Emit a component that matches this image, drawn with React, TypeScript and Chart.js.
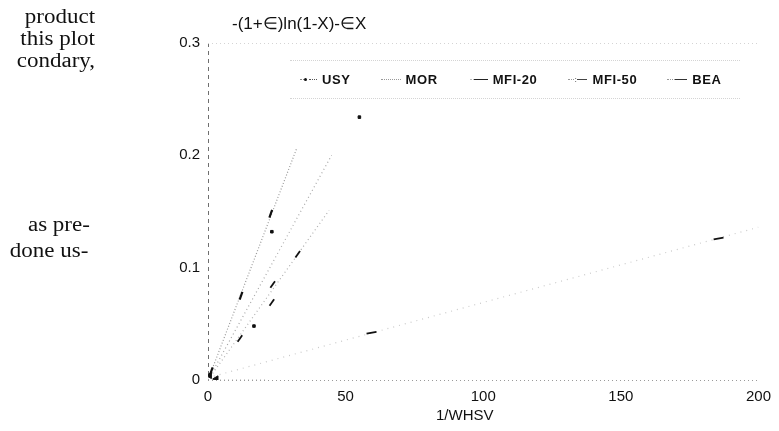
import React, { useEffect, useRef } from "react";
import { Chart, registerables } from "chart.js";

Chart.register(...registerables);

// ---------- data ----------
const xTicks = [0, 50, 100, 150, 200];
const yTicks = [0, 0.1, 0.2, 0.3];
const seriesNames = ["USY", "MOR", "MFI-20", "MFI-50", "BEA"];

// measured points (markers)
const usyX = [1.2, 12, 22.8];
const usyY = [0.008, 0.075, 0.148];
const morX = [16.7, 23.2, 55];
const morY = [0.048, 0.132, 0.234];
const mfi20X = [59.4, 185.5];
const mfi20Y = [0.042, 0.126];
const mfi50X = [11.6, 23.2, 23.5, 32.6];
const mfi50Y = [0.037, 0.069, 0.085, 0.112];
const beaX = [0.6, 3];
const beaY = [0.004, 0.001];

// fitted straight lines (end points)
const usyLineX = [0, 32.2];
const usyLineY = [0, 0.206];
const morLineX = [0, 44.9];
const morLineY = [0, 0.2];
const mfi20LineX = [0, 200];
const mfi20LineY = [0.002, 0.136];
const mfi50LineX = [0, 44];
const mfi50LineY = [0, 0.151];
const beaLineX = [0, 21];
const beaLineY = [0, 0];

const yTitle = "-(1+\u2208)ln(1-X)-\u2208X";
const xTitle = "1/WHSV";
const sideTextTop = ["product", "this plot", "condary,"];
const sideTextBottom = ["as pre-", "done us-"];

const FONT = "'Liberation Sans', Arial, Helvetica, sans-serif";
const SERIF = "'Liberation Serif', 'Times New Roman', serif";

const pts = (xs: number[], ys: number[]) => xs.map((x, i) => ({ x, y: ys[i] }));

function LegendSample({ name }: { name: string }) {
  const dotted = (w: number, c = "#888") => (
    <span style={{ display: "inline-block", width: w, borderTop: `1px dotted ${c}`, verticalAlign: "middle" }} />
  );
  const solid = (w: number, c = "#222") => (
    <span style={{ display: "inline-block", width: w, borderTop: `1px solid ${c}`, verticalAlign: "middle" }} />
  );
  const dot = (
    <span style={{ display: "inline-block", width: 3, height: 3, borderRadius: 2, background: "#111", verticalAlign: "middle", marginRight: 2 }} />
  );
  let content: React.ReactNode = null;
  if (name === "USY") content = (<>{dotted(4)}{dot}{dotted(8, "#555")}</>);
  else if (name === "MOR") content = dotted(20, "#999");
  else if (name === "MFI-20") content = (<>{dotted(4, "#bbb")}{solid(14)}</>);
  else if (name === "MFI-50") content = (<>{dotted(6, "#999")}<span style={{ display: "inline-block", fontSize: 8, color: "#888", verticalAlign: "middle", lineHeight: "8px" }}>:</span>{solid(10, "#444")}</>);
  else content = (<>{dotted(8, "#999")}{solid(12, "#333")}</>);
  return <span style={{ display: "inline-flex", alignItems: "center", width: 20, justifyContent: "flex-end" }}>{content}</span>;
}

export default function App() {
  const ref = useRef<HTMLCanvasElement>(null);

  useEffect(() => {
    if (!ref.current) return;
    const lineDs = (label: string, xs: number[], ys: number[], color: string, dash: number[], width: number) => ({
      label,
      data: pts(xs, ys),
      showLine: true,
      borderColor: color,
      borderDash: dash,
      borderWidth: width,
      pointRadius: 0,
      pointHoverRadius: 0,
      fill: false,
      tension: 0,
      order: 2,
    });
    const markDs = (label: string, xs: number[], ys: number[], style: string, rot: number, r: number, bw: number) => ({
      label,
      data: pts(xs, ys),
      showLine: false,
      pointStyle: style,
      pointRotation: rot,
      pointRadius: r,
      pointBorderWidth: bw,
      pointBackgroundColor: "#111",
      pointBorderColor: "#111",
      order: 1,
    });

    const chart = new Chart(ref.current, {
      type: "scatter",
      data: {
        datasets: [
          lineDs(seriesNames[0] + " fit", usyLineX, usyLineY, "#9a9a9a", [1, 2], 1.2),
          lineDs(seriesNames[1] + " fit", morLineX, morLineY, "#a8a8a8", [1, 3], 1.2),
          lineDs(seriesNames[2] + " fit", mfi20LineX, mfi20LineY, "#cacaca", [1, 5], 1.2),
          lineDs(seriesNames[3] + " fit", mfi50LineX, mfi50LineY, "#b0b0b0", [1, 3], 1.2),
          lineDs(seriesNames[4] + " fit", beaLineX, beaLineY, "#aaaaaa", [1, 3], 1.2),
          markDs(seriesNames[0], usyX, usyY, "line", -70, 4, 2.2),
          markDs(seriesNames[1], morX, morY, "rect", 0, 1.8, 1),
          markDs(seriesNames[2], mfi20X, mfi20Y, "line", -10, 5, 1.8),
          markDs(seriesNames[3], mfi50X, mfi50Y, "line", -55, 4, 1.8),
          markDs(seriesNames[4], beaX, beaY, "triangle", -90, 3.5, 1),
        ] as any,
      },
      options: {
        responsive: false,
        animation: false,
        layout: { padding: { left: 0, right: 17, top: 43, bottom: 0 } },
        plugins: { legend: { display: false }, tooltip: { enabled: false }, title: { display: false } },
        scales: {
          x: {
            type: "linear",
            min: 0,
            max: 200,
            afterBuildTicks: (s: any) => { s.ticks = xTicks.map((v) => ({ value: v })); },
            afterFit: (s: any) => { s.height = 51; },
            ticks: { padding: 8, color: "#111", font: { family: FONT, size: 15 }, callback: (v: any) => String(v) },
            grid: {
              display: true,
              drawTicks: false,
              lineWidth: 1,
              color: (c: any) => (c.tick && c.tick.value === 0 ? "#6f6f6f" : "rgba(0,0,0,0)"),
            },
            border: { display: false, dash: [4, 4] },
            title: { display: false },
          },
          y: {
            type: "linear",
            min: 0,
            max: 0.3,
            afterBuildTicks: (s: any) => { s.ticks = yTicks.map((v) => ({ value: v })); },
            afterFit: (s: any) => { s.width = 208; },
            ticks: { padding: 8, color: "#111", font: { family: FONT, size: 15 }, callback: (v: any) => (v === 0 ? "0" : Number(v).toFixed(1)) },
            grid: {
              display: true,
              drawTicks: false,
              lineWidth: 1,
              color: (c: any) =>
                c.tick && c.tick.value === 0 ? "#9a9a9a" : c.tick && Math.abs(c.tick.value - 0.3) < 1e-9 ? "#d4d4d4" : "rgba(0,0,0,0)",
            },
            border: { display: false, dash: [1, 3] },
          },
        },
      } as any,
    });
    return () => chart.destroy();
  }, []);

  const sideStyle = (right: number, top: number): React.CSSProperties => ({
    position: "absolute",
    right: 779 - right,
    top,
    fontFamily: SERIF,
    fontSize: 20,
    lineHeight: "20px",
    color: "#111",
    whiteSpace: "nowrap",
    transform: "scaleX(1.15)",
    transformOrigin: "right center",
  });

  return (
    <div style={{ position: "absolute", left: 0, top: 0, width: 779, height: 431, overflow: "hidden", background: "#fff" }}>
      <canvas ref={ref} width={779} height={431} style={{ position: "absolute", left: 0, top: 0 }} />
      {sideTextTop.map((t, i) => (
        <div key={t} style={sideStyle(95, 6 + i * 22)}>{t}</div>
      ))}
      <div style={sideStyle(90, 214)}>{sideTextBottom[0]}</div>
      <div style={sideStyle(88, 240)}>{sideTextBottom[1]}</div>
      <div style={{ position: "absolute", left: 232, top: 14, fontFamily: FONT, fontSize: 17, lineHeight: "20px", color: "#111", whiteSpace: "nowrap" }}>{yTitle}</div>
      <div style={{ position: "absolute", left: 436, top: 405, fontFamily: FONT, fontSize: 15, lineHeight: "20px", color: "#111", whiteSpace: "nowrap" }}>{xTitle}</div>
      <div style={{ position: "absolute", left: 290, top: 60, width: 450, height: 37, borderTop: "1px dotted #d4d4d4", borderBottom: "1px dotted #d4d4d4" }} />
      <div style={{ position: "absolute", left: 297, top: 72, display: "flex", alignItems: "center", fontFamily: FONT, fontSize: 13, fontWeight: "bold", letterSpacing: 0.6, color: "#111", whiteSpace: "nowrap" }}>
        {seriesNames.map((n) => (
          <span key={n} style={{ display: "inline-flex", alignItems: "center", marginRight: 30 }}>
            <LegendSample name={n} />
            <span style={{ marginLeft: 5 }}>{n}</span>
          </span>
        ))}
      </div>
    </div>
  );
}
